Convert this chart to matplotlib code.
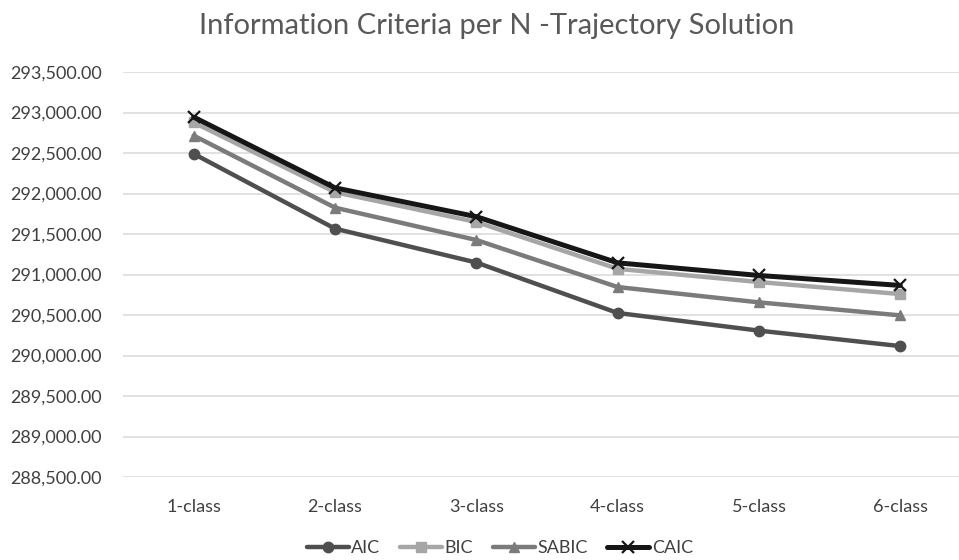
import matplotlib.pyplot as plt
from matplotlib.ticker import FuncFormatter, MultipleLocator

plt.rcParams['font.family'] = ['Lato', 'DejaVu Sans']

classes = ["1-class", "2-class", "3-class", "4-class", "5-class", "6-class"]
aic = [292490, 291566, 291148, 290525, 290307, 290116]
bic = [292877, 292016, 291648, 291070, 290907, 290758]
sabic = [292715, 291825, 291426, 290845, 290656, 290495]
caic = [292943, 292070, 291714, 291144, 290988, 290865]

series = [
    ("AIC", aic, "#4f4f4f", "o", 3.2),
    ("BIC", bic, "#a6a6a6", "s", 3.2),
    ("SABIC", sabic, "#7b7b7b", "^", 3.2),
    ("CAIC", caic, "#161616", "x", 3.6),
]

fig = plt.figure(figsize=(9.59, 5.6), dpi=100)
ax = fig.add_axes([123 / 959, 83 / 560, (959 - 123) / 959, 405 / 560])

x = list(range(len(classes)))
for name, vals, col, mk, lw in series:
    if mk == "x":
        ax.plot(x, vals, color=col, lw=lw, marker=mk, ms=9, mew=1.6,
                label=name, solid_capstyle="round", zorder=3)
    else:
        ax.plot(x, vals, color=col, lw=lw, marker=mk, ms=7.5,
                label=name, solid_capstyle="round", zorder=3)

ax.set_ylim(288500, 293500)
ax.yaxis.set_major_locator(MultipleLocator(500))
ax.yaxis.set_major_formatter(FuncFormatter(lambda v, p: f"{v:,.2f}"))
ax.set_xlim(-0.5, 5.5 - 12 / 141.5)
ax.set_xticks(x)
ax.set_xticklabels(classes)

ax.grid(axis="y", color="#d9d9d9", lw=1.1)
ax.set_axisbelow(True)
for s in ax.spines.values():
    s.set_visible(False)
ax.tick_params(axis="both", length=0, labelsize=13, colors="#404040")
ax.tick_params(axis="y", pad=15)
ax.tick_params(axis="x", pad=16)

fig.text(497 / 959, 1 - 26 / 560, "Information Criteria per N -Trajectory Solution",
         ha="center", va="center", fontsize=21, color="#595959")

fig.legend(loc="center", bbox_to_anchor=(500 / 959, 12 / 560), ncol=4,
           frameon=False, fontsize=13, handlelength=2.3, columnspacing=1.1,
           handletextpad=0.15, labelcolor="#404040")

fig.savefig("out.png", dpi=100)
